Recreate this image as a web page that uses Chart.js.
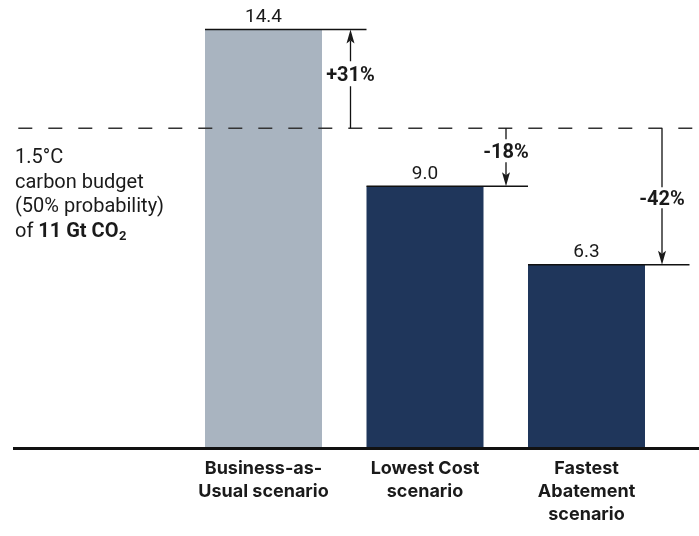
<!DOCTYPE html>
<html lang="en">
<head>
    <meta charset="UTF-8">
    <title>Scenario emissions vs 1.5°C budget</title>
    <script src="https://cdn.jsdelivr.net/npm/chart.js@4.4.1/dist/chart.umd.min.js"></script>
    <style>
        html, body { margin: 0; padding: 0; background: #fff; }
        #wrap { width: 699px; height: 536px; }
    </style>
</head>
<body>
    <div id="wrap"><canvas id="scenarioChart"></canvas></div>

    <script>
        // data
        const categories = [
            ["Business-as-", "Usual scenario"],
            ["Lowest Cost", "scenario"],
            ["Fastest", "Abatement", "scenario"]
        ];
        const emissions = [14.4, 9.0, 6.3];      // Gt CO2
        const valueLabels = ["14.4", "9.0", "6.3"];
        const changeLabels = ["+31%", "-18%", "-42%"];
        const budget = 11;                          // 1.5°C budget, Gt CO2

        // where each arrow sits (px right of bar centre) and where its label sits along it
        const arrowOffset = [87, 81, 75.5];
        const labelAt = [0.55, 0.39, 0.51];
        const labelGap = [12.5, 11.5, 10.5];

        const ink = "#1a1a1a";
        const ctx = document.getElementById("scenarioChart").getContext("2d");

        function arrowHead(c, x, y, dir) {
            // dir = -1 points up, 1 points down
            c.beginPath();
            c.moveTo(x, y);
            c.lineTo(x - 4, y - dir * 14);
            c.lineTo(x, y - dir * 11);
            c.lineTo(x + 4, y - dir * 14);
            c.closePath();
            c.fill();
        }

        const annotations = {
            id: "annotations",
            afterDatasetsDraw(chart) {
                const c = chart.ctx;
                const x = chart.scales.x, y = chart.scales.y;
                const bars = chart.getDatasetMeta(0).data;
                const step = x.getPixelForValue(1) - x.getPixelForValue(0);
                const yBudget = y.getPixelForValue(budget);
                const yZero = y.getPixelForValue(0);

                c.save();

                // budget line (dashed)
                c.strokeStyle = "#333";
                c.lineWidth = 1.5;
                c.setLineDash([14, 16]);
                c.lineDashOffset = 26.7;
                c.beginPath();
                c.moveTo(15, yBudget);
                c.lineTo(chart.width, yBudget);
                c.stroke();
                c.setLineDash([]);

                // baseline
                c.strokeStyle = "#111";
                c.lineWidth = 3;
                c.beginPath();
                c.moveTo(13, yZero + 0.8);
                c.lineTo(chart.width, yZero + 0.8);
                c.stroke();

                c.fillStyle = ink;
                c.strokeStyle = "#111";
                emissions.forEach((v, i) => {
                    const bar = bars[i];
                    const left = bar.x - bar.width / 2;
                    const top = y.getPixelForValue(v);

                    // line across the bar top
                    c.lineWidth = 1.5;
                    c.beginPath();
                    c.moveTo(left, top);
                    c.lineTo(left + step, top);
                    c.stroke();

                    // value label
                    c.font = "19px Roboto";
                    c.textAlign = "center";
                    c.textBaseline = "alphabetic";
                    c.fillText(valueLabels[i], bar.x, top - 7.5);

                    // change arrow between budget line and bar top
                    const ax = bar.x + arrowOffset[i];
                    const up = top < yBudget;
                    const y1 = yBudget, y2 = top;
                    const ly = y1 + (y2 - y1) * labelAt[i];
                    const dir = up ? -1 : 1;
                    c.lineWidth = 1.3;
                    c.beginPath();
                    c.moveTo(ax, y1);
                    c.lineTo(ax, ly - dir * labelGap[i]);
                    c.moveTo(ax, ly + dir * labelGap[i]);
                    c.lineTo(ax, y2 - dir * 11);
                    c.stroke();
                    arrowHead(c, ax, y2, dir);

                    c.font = "bold 20px Roboto";
                    c.fillText(changeLabels[i], ax, ly + 7);
                });

                // budget note on the left
                c.textAlign = "left";
                c.font = "20px Roboto";
                c.fillText("1.5°C", 15, 163);
                c.fillText("carbon budget", 15, 187.5);
                c.fillText("(50% probability)", 15, 212);
                c.fillText("of ", 15, 236.5);
                let tx = 15 + c.measureText("of ").width;
                c.font = "bold 20px Roboto";
                c.fillText("11 Gt CO", tx, 236.5);
                tx += c.measureText("11 Gt CO").width + 0.5;
                c.font = "bold 13px Roboto";
                c.fillText("2", tx, 240);

                c.restore();
            }
        };

        const chart = new Chart(ctx, {
            type: "bar",
            data: {
                labels: categories,
                datasets: [{
                    data: emissions,
                    backgroundColor: ["#a9b4c0", "#1f365b", "#1f365b"],
                    borderWidth: 0,
                    barPercentage: 0.7245,
                    categoryPercentage: 1
                }]
            },
            options: {
                responsive: true,
                maintainAspectRatio: false,
                animation: false,
                layout: {
                    padding: { left: 182.75, right: 31.75, top: 0, bottom: 1.3 }
                },
                plugins: {
                    legend: { display: false },
                    tooltip: { enabled: false }
                },
                scales: {
                    y: {
                        display: false,
                        min: 0,
                        max: 15.412
                    },
                    x: {
                        grid: { display: false, drawTicks: false },
                        border: { display: false },
                        ticks: {
                            color: ink,
                            padding: 9,
                            maxRotation: 0,
                            autoSkip: false,
                            font: { family: "Inter", weight: "bold", size: 18, lineHeight: "23px" }
                        }
                    }
                }
            },
            plugins: [annotations]
        });
    </script>
</body>
</html>
